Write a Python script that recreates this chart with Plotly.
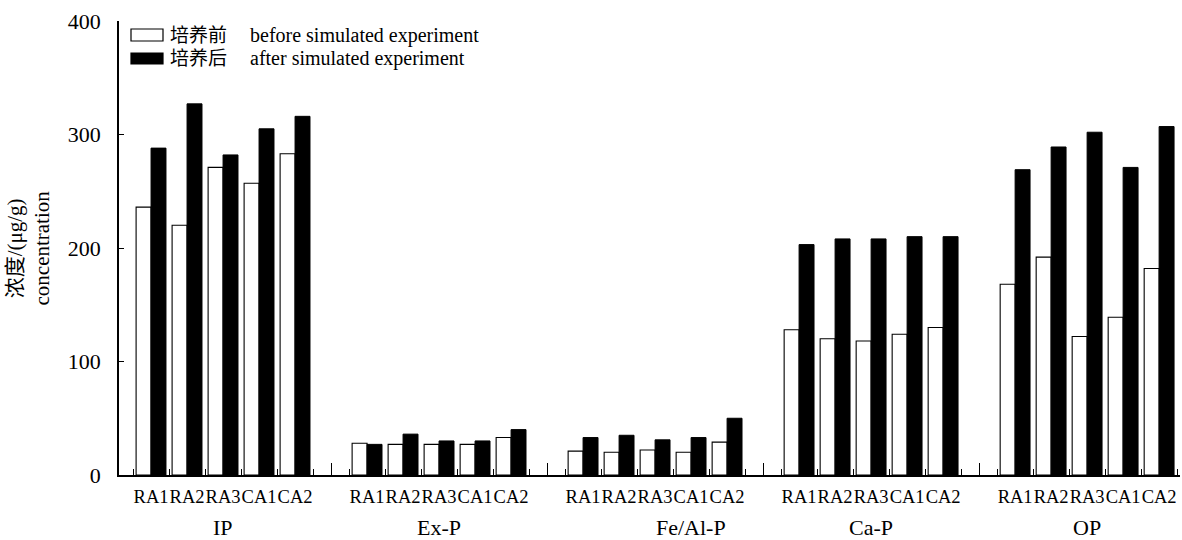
import plotly.graph_objects as go

# Phosphorus fractions and sample treatments
groups = ["IP", "Ex-P", "Fe/Al-P", "Ca-P", "OP"]
samples = ["RA1", "RA2", "RA3", "CA1", "CA2"]

# Concentrations (μg/g) before the simulated experiment
ip_before = [236, 220, 271, 257, 283]
exp_before = [28, 27, 27, 27, 33]
feal_before = [21, 20, 22, 20, 29]
cap_before = [128, 120, 118, 124, 130]
op_before = [168, 192, 122, 139, 182]

# Concentrations (μg/g) after the simulated experiment
ip_after = [288, 327, 282, 305, 316]
exp_after = [27, 36, 30, 30, 40]
feal_after = [33, 35, 31, 33, 50]
cap_after = [203, 208, 208, 210, 210]
op_after = [269, 289, 302, 271, 307]

y_ticks = [0, 100, 200, 300, 400]

before_all = ip_before + exp_before + feal_before + cap_before + op_before
after_all = ip_after + exp_after + feal_after + cap_after + op_after

# Each fraction takes five sample slots plus one empty slot
SLOT = 6
centers = [SLOT * g + s + 0.5 for g in range(len(groups)) for s in range(len(samples))]
boundaries = [SLOT * g + k for g in range(len(groups)) for k in range(len(samples) + 1)]
separators = [SLOT * g + len(samples) + 0.5 for g in range(len(groups) - 1)]
sample_labels = samples * len(groups)
group_pos = [SLOT * g + len(samples) / 2 for g in range(len(groups))]
group_pos[2] += 1.0  # the Fe/Al-P caption sits a slot to the right

X_RANGE = [-0.39, 29.08]
SERIF = "Liberation Serif, Times New Roman, Noto Sans CJK SC, serif"

fig = go.Figure()
fig.add_trace(go.Bar(
    x=centers, y=before_all, name="培养前",
    marker=dict(color="white", line=dict(color="black", width=1.1)),
    showlegend=False,
))
fig.add_trace(go.Bar(
    x=centers, y=after_all, name="培养后",
    marker=dict(color="black", line=dict(color="black", width=1)),
    showlegend=False,
))
# carrier trace for the sample-label axis
fig.add_trace(go.Scatter(
    x=centers, y=[0] * len(centers), xaxis="x2", mode="markers",
    marker=dict(opacity=0), hoverinfo="skip", showlegend=False,
))

fig.update_layout(
    width=1182, height=540,
    margin=dict(l=119, r=2, t=21, b=65),
    paper_bgcolor="white", plot_bgcolor="white",
    barmode="group", bargap=0.17, bargroupgap=0,
    font=dict(family=SERIF, color="black"),
    xaxis=dict(
        range=X_RANGE, showgrid=False, zeroline=False,
        showline=True, linecolor="black", linewidth=1.5,
        tickmode="array", tickvals=separators, ticktext=[""] * len(separators),
        ticks="inside", ticklen=12, tickwidth=1.2, tickcolor="black",
        minor=dict(tickmode="array", tickvals=boundaries, ticks="inside",
                   ticklen=6, tickwidth=1.2, tickcolor="black"),
    ),
    xaxis2=dict(
        overlaying="x", anchor="y", side="bottom", range=X_RANGE,
        showgrid=False, zeroline=False, showline=False,
        tickmode="array", tickvals=centers, ticktext=sample_labels,
        ticks="", tickangle=0,
        tickfont=dict(size=18.5, family=SERIF, color="black"),
        ticklabelstandoff=8,
    ),
    yaxis=dict(
        range=[0, 400], showgrid=False, zeroline=False,
        showline=True, linecolor="black", linewidth=1.5,
        tickmode="array", tickvals=y_ticks,
        ticks="inside", ticklen=5, tickwidth=1.2, tickcolor="black",
        tickfont=dict(size=22, family=SERIF, color="black"),
        ticklabelstandoff=12,
    ),
)

# Fraction captions under the sample labels
for name, pos in zip(groups, group_pos):
    fig.add_annotation(
        x=pos, xref="x", y=-0.115, yref="paper", yanchor="middle",
        text=name, showarrow=False, font=dict(size=22, family=SERIF, color="black"),
    )

# Y axis title, two lines
fig.add_annotation(
    x=0, xref="paper", xshift=-64, xanchor="right",
    y=0.5, yref="paper", yanchor="middle",
    text="浓度/(μg/g)<br>concentration", textangle=-90, showarrow=False,
    font=dict(size=21, family=SERIF, color="black"),
)

# Legend keys and labels
PLOT_W, PLOT_H, PLOT_L, PLOT_T = 1061, 454, 119, 21


def px(xp):
    return (xp - PLOT_L) / PLOT_W


def py(yp):
    return 1 - (yp - PLOT_T) / PLOT_H


legend_rows = [
    ("white", "培养前", "before simulated experiment", 29, 41),
    ("black", "培养后", "after simulated experiment", 53, 64),
]
for fill, zh, en, top, bottom in legend_rows:
    fig.add_shape(
        type="rect", xref="paper", yref="paper",
        x0=px(131), x1=px(163), y0=py(bottom), y1=py(top),
        fillcolor=fill, line=dict(color="black", width=1.2),
    )
    mid = py((top + bottom) / 2)
    fig.add_annotation(
        x=px(168), xref="paper", y=mid, yref="paper", xanchor="left", yanchor="middle",
        text=zh, showarrow=False, font=dict(size=19, family=SERIF, color="black"),
    )
    fig.add_annotation(
        x=px(248), xref="paper", y=mid, yref="paper", xanchor="left", yanchor="middle",
        text=en, showarrow=False, font=dict(size=20, family=SERIF, color="black"),
    )

fig.write_html("out.html")
